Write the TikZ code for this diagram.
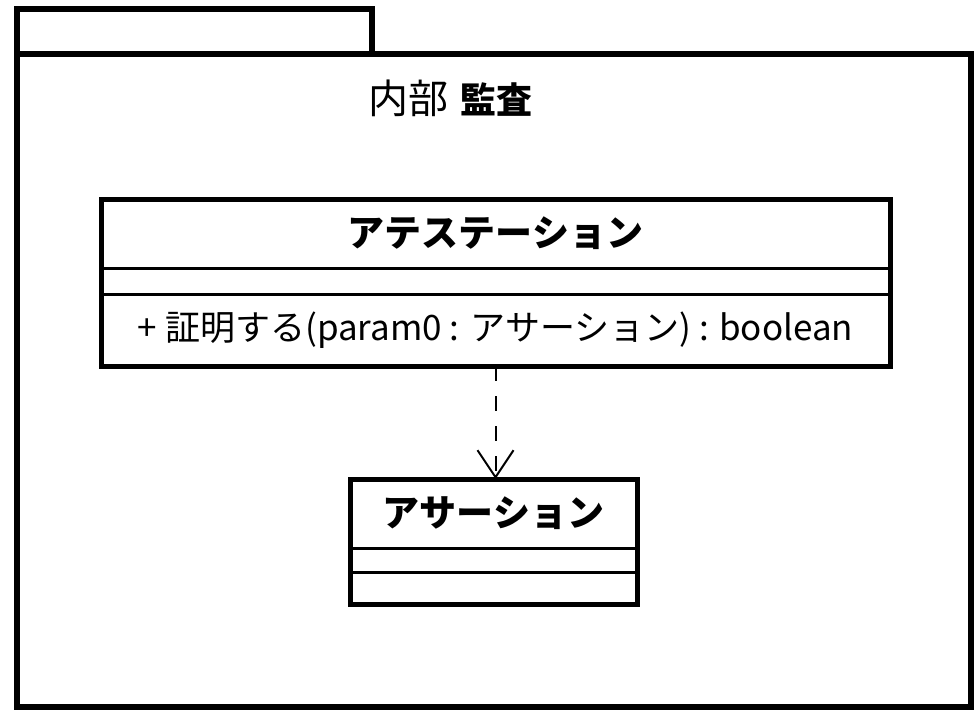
\documentclass[tikz,border=0pt]{standalone}
\usepackage{fontspec}
\setmainfont{Noto Sans CJK JP}
\usetikzlibrary{positioning,arrows.meta}

\begin{document}
\begin{tikzpicture}[x=1pt, y=-1pt,
    comp/.style={draw, line width=3pt, outer sep=0pt, inner sep=0pt, anchor=north},
    cname/.style={comp, font=\bfseries\fontsize{37}{37}\selectfont},
    cops/.style={comp, font=\fontsize{35}{35}\selectfont},
    dep/.style={line width=2pt, dash pattern=on 15pt off 15pt, -{Straight Barb[length=27pt, width=36pt, line width=2pt]}}]
    \useasboundingbox (0,0) rectangle (977,710);
    %\draw[red] (0,0) rectangle (977,710);
    \draw[line width=6pt] (17,9) rectangle (372,54);
    \draw[line width=6pt] (17,54) rectangle (971,707);
    \node (pkgTitle) at (450,98) {{\fontsize{40}{40}\selectfont 内部}\hspace{12pt}{\bfseries\fontsize{36}{36}\selectfont 監査}};
    % Attestation class
    \node[cname, minimum width=789, minimum height=69] (attestName) at (495.5,199) {アテステーション};
    \node[comp, minimum width=789, minimum height=26, below=0pt of attestName] (attestAttr) {};
    \node[cops, minimum width=789, minimum height=72, below=0pt of attestAttr] (attestOps) {+ 証明する(param0 : アサーション) : boolean};
    \draw[line width=5pt] (attestName.north west) rectangle (attestOps.south east);
    % Assertion class
    \node[cname, minimum width=287, minimum height=69] (assertName) at (493.5,479) {アサーション};
    \node[comp, minimum width=287, minimum height=24, below=0pt of assertName] (assertAttr) {};
    \node[comp, minimum width=287, minimum height=32, below=0pt of assertAttr] (assertOps) {};
    \draw[line width=5pt] (assertName.north west) rectangle (assertOps.south east);
    \draw[dep] (attestOps.south) -- (attestOps.south |- assertName.north);
\end{tikzpicture}
\end{document}
